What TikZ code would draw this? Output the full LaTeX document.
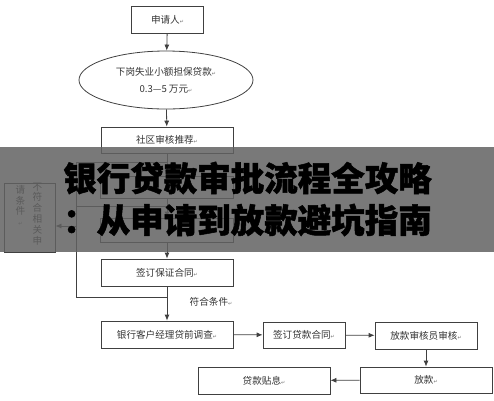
\documentclass[tikz,border=0pt]{standalone}
\usepackage{fontspec}
\setmainfont{Noto Sans CJK SC}
\newfontfamily\dejavu{DejaVu Sans}
\newfontfamily\titlefont{Noto Sans CJK SC}[BoldFeatures={FakeBold=1.5}]
\usetikzlibrary{shapes.geometric,arrows.meta}
\newcommand{\ret}{{\dejavu\fontsize{5}{5}\selectfont\color{black!55}↵}}
\tikzset{
    box/.style={draw=black!75, line width=0.8pt, inner sep=0pt, text=black!80,
        font=\fontsize{9.6}{11}\selectfont},
    link/.style={draw=black!75, line width=0.8pt},
    arr/.style={link, -{Latex[length=6pt,width=5pt]}},
}
\begin{document}
\begin{tikzpicture}[x=1pt, y=-1pt]
    \useasboundingbox (0,0) rectangle (494,400);
    \node[box, minimum width=72, minimum height=27] (app) at (167.5,19.5) {申请人\ret};
    \node[box, ellipse, minimum width=174, minimum height=58, align=center,
        font=\fontsize{9.6}{17}\selectfont] (loan) at (166,80) {下岗失业小额担保贷款\ret\\0.3—5 万元\ret};
    \node[box, minimum width=132, minimum height=26] (comm) at (167,140) {社区审核推荐\ret};
    \node[box, minimum width=133, minimum height=22] (chk1) at (167,187) {};
    \node[box, minimum width=133, minimum height=24] (chk2) at (167,230) {};
    \node[box, minimum width=132, minimum height=27] (guar) at (167,272.5) {签订保证合同\ret};
    \node[box, minimum width=132, minimum height=27] (survey) at (167,334.5) {银行客户经理贷前调查\ret};
    \node[box, minimum width=82, minimum height=26] (contract) at (304,335) {签订贷款合同\ret};
    \node[box, minimum width=102, minimum height=27] (audit) at (426,335.5) {放款审核员审核\ret};
    \node[box, minimum width=132, minimum height=26] (pay) at (426,380) {放款\ret};
    \node[box, minimum width=132, minimum height=27] (subsidy) at (264,380.5) {贷款贴息\ret};
    \node[box, minimum width=51, minimum height=69] (reject) at (29.5,217.5) {};
    \node[align=center, inner sep=0pt, text=black!80, anchor=north,
        font=\fontsize{9.6}{10.8}\selectfont] (rejR) at (37.5,182.5) {不\\符\\合\\相\\关\\申};
    \node[align=center, inner sep=0pt, text=black!80, anchor=north,
        font=\fontsize{9.6}{10.8}\selectfont] (rejL) at (20.5,185) {请\\条\\件\\\ret};
    \node[inner sep=0pt, text=black!80, font=\fontsize{9.6}{11}\selectfont] (ok) at (211,302) {符合条件\ret};
    \coordinate (br1) at (167.5,162);
    \coordinate (br2) at (167.5,206);
    \coordinate (side1) at (76,162);
    \coordinate (side2) at (76,206);
    \coordinate (sideArr) at (76,226);
    \coordinate (sideBot) at (76,297);
    \coordinate (axBot) at (167.5,297);
    \draw[arr] (app) -- (loan);
    \draw[arr] (loan) -- (comm);
    \draw[arr] (comm) -- (chk1);
    \draw[arr] (chk1) -- (chk2);
    \draw[arr] (chk2) -- (guar);
    \draw[arr] (guar) -- (survey);
    \draw[link] (br1) -- (side1) -- (sideBot) -- (axBot);
    \draw[link] (br2) -- (side2);
    \draw[arr] (sideArr) -- (reject.east |- sideArr);
    \draw[arr] (survey) -- (contract);
    \draw[arr] (contract) -- (audit);
    \draw[arr] (audit) -- (pay);
    \draw[arr] (pay) -- (subsidy);
    \fill[black!62, opacity=0.85] (0,147) rectangle (494,252);
    \node[inner sep=0pt, font=\titlefont\bfseries\fontsize{33.5}{40}\selectfont] (title1) at (247.5,178) {银行贷款审批流程全攻略};
    \node[inner sep=0pt, font=\titlefont\bfseries\fontsize{33.5}{40}\selectfont] (title2) at (247.5,220) {：从申请到放款避坑指南};
\end{tikzpicture}
\end{document}
